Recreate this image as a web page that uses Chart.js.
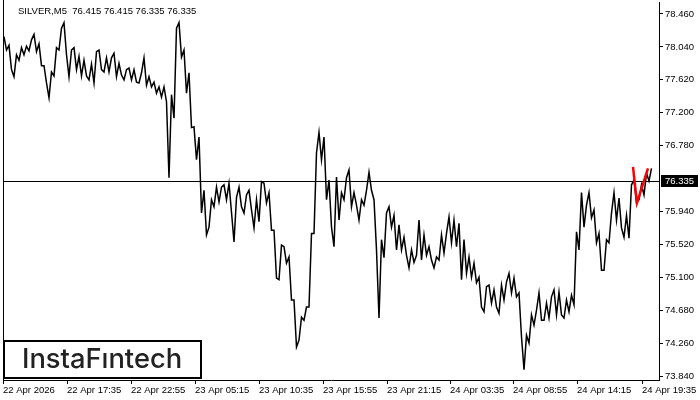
<!DOCTYPE html>
<html>
<head>
<meta charset="utf-8">
<script src="https://cdn.jsdelivr.net/npm/chart.js@4.4.1/dist/chart.umd.min.js"></script>
<style>
  html, body { margin: 0; padding: 0; background: #fff; }
</style>
</head>
<body>
<canvas id="chart" width="700" height="400"></canvas>
<script>
const symbolTitle = 'SILVER,M5  76.415 76.415 76.335 76.335';
const lastPrice = 76.335;
const barsPerColumn = 5; // each value pair below covers 5 M5 bars

// high / low of each group of bars
const highs = [
  78.17, 78.06, 77.94, 78.03, 78.05, 78.13, 78.20, 78.08, 77.80, 77.72,
  78.03, 78.28, 78.35, 78.00, 78.03, 77.92, 77.87, 77.82, 77.98, 78.00,
  77.90, 77.90, 77.96, 77.83, 77.75, 77.77, 77.75, 77.71, 77.90, 77.66,
  77.59, 77.53, 77.53, 77.43, 78.28, 78.35, 78.00, 77.71, 77.02, 76.89,
  76.21, 76.09, 76.25, 76.25, 76.28, 76.30, 76.12, 76.25, 76.15, 76.21,
  76.09, 76.32, 76.30, 76.18, 75.70, 75.51, 75.49, 75.36, 74.81, 74.59,
  74.72, 75.66, 76.69, 76.95, 76.89, 76.34, 76.38, 76.18, 76.37, 76.47,
  76.18, 76.09, 76.21, 76.44, 76.09, 75.58, 75.92, 76.00, 75.89, 75.77,
  75.61, 75.45, 75.38, 75.83, 75.64, 75.49, 75.36, 75.64, 75.66, 75.87,
  75.83, 75.79, 75.58, 75.36, 75.28, 75.10, 74.98, 75.00, 74.94, 75.00,
  75.04, 75.15, 75.09, 74.90, 74.36, 74.62, 74.68, 74.90, 74.77, 74.85,
  74.94, 74.91, 74.81, 74.87, 75.68, 76.18, 76.02, 76.18, 75.96, 75.66,
  75.58, 75.92, 76.18, 76.11, 75.89, 76.28, 76.34, 76.28, 76.43, 76.49
];
const lows = [
  78.00, 77.75, 77.66, 77.87, 77.94, 77.99, 77.98, 77.80, 77.58, 77.39,
  77.67, 78.00, 77.94, 77.66, 77.75, 77.67, 77.67, 77.62, 77.58, 77.75,
  77.72, 77.72, 77.66, 77.68, 77.62, 77.62, 77.59, 77.58, 77.55, 77.53,
  77.45, 77.40, 77.34, 76.37, 77.13, 77.91, 77.45, 77.01, 76.60, 75.92,
  75.64, 75.74, 76.00, 76.06, 76.09, 75.93, 75.55, 76.00, 75.92, 75.96,
  75.73, 75.81, 76.05, 75.70, 75.09, 75.07, 75.28, 74.81, 74.21, 74.30,
  74.55, 74.72, 75.66, 76.60, 76.09, 75.74, 75.49, 75.83, 76.09, 76.00,
  76.02, 75.83, 76.02, 76.21, 75.45, 74.58, 75.35, 75.74, 75.45, 75.45,
  75.38, 75.22, 75.29, 75.32, 75.38, 75.32, 75.22, 75.32, 75.41, 75.54,
  75.49, 75.07, 75.15, 75.10, 75.03, 74.72, 74.66, 74.77, 74.72, 74.64,
  74.81, 74.90, 74.85, 74.34, 73.92, 74.26, 74.49, 74.55, 74.55, 74.58,
  74.62, 74.62, 74.58, 74.66, 74.75, 75.45, 75.74, 75.86, 75.54, 75.19,
  75.19, 75.54, 75.83, 75.73, 75.61, 75.60, 76.05, 76.09, 76.15, 76.33
];

const timeLabels = ['22 Apr 2026', '22 Apr 17:35', '22 Apr 22:55', '23 Apr 05:15', '23 Apr 10:35',
  '23 Apr 15:55', '23 Apr 21:15', '24 Apr 03:35', '24 Apr 08:55', '24 Apr 14:15', '24 Apr 19:35'];
const timeTickIndex = [0, 64, 128, 192, 256, 320, 384, 447, 510, 574, 639];
const priceTicks = [78.46, 78.04, 77.62, 77.20, 76.78, 75.94, 75.52, 75.10, 74.68, 74.26, 73.84];

// red pattern marker
const patternIndex = [630, 634, 645];
const patternPrice = [76.51, 76.05, 76.49];

// zigzag through each group's high and low so the band looks like dense bars
function buildPath(hi, lo, step) {
  const pts = [];
  for (let i = 0; i < hi.length; i++) {
    const mid = (hi[i] + lo[i]) / 2;
    const next = i + 1 < hi.length ? (hi[i + 1] + lo[i + 1]) / 2 : mid;
    const x = i * step;
    if (next >= mid) {
      pts.push({ x: x + 1, y: lo[i] }, { x: x + 3.5, y: hi[i] });
    } else {
      pts.push({ x: x + 1, y: hi[i] }, { x: x + 3.5, y: lo[i] });
    }
  }
  return pts;
}

const axisFont = { family: 'Liberation Sans', size: 9.5 };

const overlay = {
  id: 'overlay',
  beforeDatasetsDraw(chart) {
    const { ctx, chartArea } = chart;
    const y = Math.round(chart.scales.y.getPixelForValue(lastPrice)) + 0.5;
    ctx.save();
    ctx.strokeStyle = '#000';
    ctx.lineWidth = 1;
    ctx.beginPath();
    ctx.moveTo(chartArea.left, y);
    ctx.lineTo(chartArea.right, y);
    ctx.stroke();
    ctx.restore();
  },
  afterDraw(chart) {
    const { ctx, chartArea } = chart;
    ctx.save();
    // left frame line
    ctx.strokeStyle = '#000';
    ctx.lineWidth = 1;
    ctx.beginPath();
    ctx.moveTo(chartArea.left + 0.5, 0);
    ctx.lineTo(chartArea.left + 0.5, chartArea.bottom);
    ctx.stroke();

    // title
    ctx.fillStyle = '#000';
    ctx.font = '9.5px "Liberation Sans"';
    ctx.textBaseline = 'alphabetic';
    ctx.textAlign = 'left';
    ctx.fillText(symbolTitle, 18, 14);

    // last price label
    const y = chart.scales.y.getPixelForValue(lastPrice);
    ctx.fillStyle = '#000';
    ctx.fillRect(chartArea.right + 2, Math.round(y) - 6, 37, 12);
    ctx.fillStyle = '#fff';
    ctx.textBaseline = 'middle';
    ctx.fillText(lastPrice.toFixed(3), chartArea.right + 6, Math.round(y) + 0.5);

    // logo
    ctx.fillStyle = '#fff';
    ctx.fillRect(3, 340, 198, 38);
    ctx.strokeStyle = '#000';
    ctx.lineWidth = 2;
    ctx.strokeRect(4, 341, 197, 37);
    ctx.font = '500 25px Inter';
    const w = ctx.measureText('InstaF\u0131ntech').width;
    const size = 25 * 160 / w;
    ctx.font = '500 ' + size.toFixed(1) + 'px Inter';
    ctx.fillStyle = '#222';
    ctx.textBaseline = 'alphabetic';
    ctx.fillText('InstaF\u0131ntech', 22, 368);
    ctx.restore();
  }
};

new Chart(document.getElementById('chart'), {
  type: 'line',
  data: {
    datasets: [
      {
        data: buildPath(highs, lows, barsPerColumn),
        borderColor: '#000',
        borderWidth: 1.5,
        pointRadius: 0,
        tension: 0,
        order: 2
      },
      {
        data: patternIndex.map((x, i) => ({ x: x, y: patternPrice[i] })),
        borderColor: '#ff0000',
        borderWidth: 2.5,
        pointRadius: 0,
        tension: 0,
        order: 1
      }
    ]
  },
  options: {
    responsive: false,
    animation: false,
    devicePixelRatio: 1,
    layout: { padding: { left: 3, top: 2, right: 0, bottom: 0 } },
    plugins: {
      legend: { display: false },
      tooltip: { enabled: false }
    },
    scales: {
      x: {
        type: 'linear',
        min: 0,
        max: 656,
        border: { color: '#000', width: 1 },
        grid: { drawOnChartArea: false, drawTicks: true, tickLength: 4, color: '#000' },
        ticks: {
          autoSkip: false,
          maxRotation: 0,
          align: 'start',
          padding: 1,
          color: '#000',
          font: axisFont,
          callback: (v, i) => timeLabels[i]
        },
        afterBuildTicks: s => { s.ticks = timeTickIndex.map(v => ({ value: v })); },
        afterFit: s => {
          s.height = 20;
          s.paddingLeft = 0;
          s.paddingRight = 0;
        }
      },
      y: {
        type: 'linear',
        position: 'right',
        min: 73.789,
        max: 78.613,
        border: { color: '#000', width: 1 },
        grid: { drawOnChartArea: false, drawTicks: true, tickLength: 4, color: '#000' },
        ticks: {
          padding: 2,
          color: '#000',
          font: axisFont,
          callback: v => v.toFixed(3)
        },
        afterBuildTicks: s => { s.ticks = priceTicks.map(v => ({ value: v })); },
        afterFit: s => {
          s.width = 41;
          s.paddingTop = 0;
          s.paddingBottom = 0;
        }
      }
    }
  },
  plugins: [overlay]
});
</script>
</body>
</html>
